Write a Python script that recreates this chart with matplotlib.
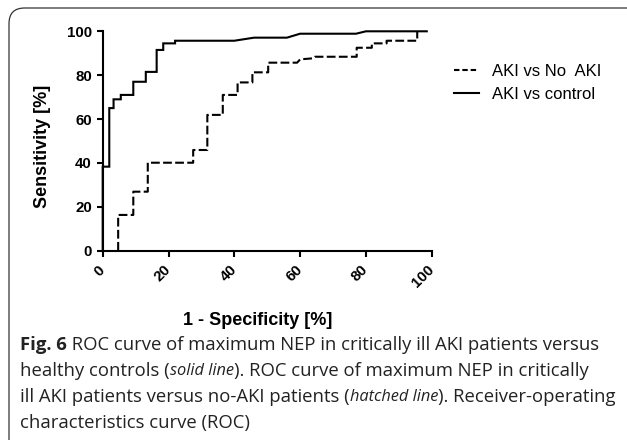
import matplotlib
matplotlib.use("Agg")
import matplotlib.pyplot as plt
from matplotlib.lines import Line2D
from matplotlib.patches import FancyBboxPatch

# ROC points (1 - specificity %, sensitivity %)
spec_control = [0, 0, 2, 2, 3.3, 3.3, 5.5, 5.5, 9.3, 9.3, 13.1, 13.1, 16.4, 16.4,
                18.4, 18.4, 22, 22, 40, 46, 56, 60, 77, 80, 98.5]
sens_control = [0, 38.3, 38.3, 65, 65, 69, 69, 71, 71, 77, 77, 81.5, 81.5, 91.5,
                91.5, 94.5, 94.5, 95.7, 95.7, 97.1, 97.1, 98.9, 98.9, 100, 100]

spec_noaki = [4.7, 4.7, 9.3, 9.3, 13.7, 13.7, 27.5, 27.5, 31.8, 31.8, 36.5, 36.5,
              41, 41, 45.5, 45.5, 50.3, 50.3, 59.1, 60, 64, 64.5, 77.2, 77.2,
              81.8, 81.8, 86.3, 86.3, 95.6, 95.6]
sens_noaki = [0, 16.3, 16.3, 26.9, 26.9, 40.1, 40.1, 45.9, 45.9, 61.9, 61.9, 71,
              71, 76.7, 76.7, 81.3, 81.3, 85.7, 85.7, 87.2, 87.7, 88.4, 88.4, 92.5,
              92.5, 94.5, 94.5, 95.7, 95.7, 100]

ticks = [0, 20, 40, 60, 80, 100]
labels = ["AKI vs No  AKI", "AKI vs control"]

caption = [
    [("Fig. 6", "bold", "normal"),
     (" ROC curve of maximum NEP in critically ill AKI patients versus", "normal", "normal")],
    [("healthy controls (", "normal", "normal"), ("solid line", "normal", "italic"),
     ("). ROC curve of maximum NEP in critically", "normal", "normal")],
    [("ill AKI patients versus no-AKI patients (", "normal", "normal"),
     ("hatched line", "normal", "italic"), ("). Receiver-operating", "normal", "normal")],
    [("characteristics curve (ROC)", "normal", "normal")],
]

W, H = 627, 440
fig = plt.figure(figsize=(W / 100, H / 100), dpi=100)
ax = fig.add_axes([102.7 / W, 1 - 250.7 / H, 329 / W, 219.4 / H])

arial = "Liberation Sans"

ax.plot(spec_control, sens_control, color="black", lw=1.5, clip_on=False,
        solid_joinstyle="miter")
ax.plot(spec_noaki, sens_noaki, color="black", lw=1.5, clip_on=False,
        linestyle=(0, (4.2, 1.6)), dash_capstyle="butt")

ax.set_xlim(0, 100)
ax.set_ylim(0, 100)
ax.set_xticks(ticks)
ax.set_yticks(ticks)
for s in ["top", "right"]:
    ax.spines[s].set_visible(False)
for s in ["left", "bottom"]:
    ax.spines[s].set_linewidth(1.5)
ax.tick_params(direction="out", length=4.3, width=1.5, labelsize=10.8)
ax.tick_params(axis="x", pad=8)
for t in ax.get_yticklabels():
    t.set_fontfamily(arial)
    t.set_fontweight("bold")
for t in ax.get_xticklabels():
    t.set_fontfamily(arial)
    t.set_fontweight("bold")
    t.set_rotation(45)
    t.set_ha("right")
    t.set_va("center")
    t.set_rotation_mode("anchor")

ax.set_ylabel("Sensitivity [%]", fontsize=13, fontweight="bold", family=arial)
ax.yaxis.set_label_coords(-0.183, 0.475)
ax.yaxis.label.set_va("center")
ax.set_xlabel("1 - Specificity [%]", fontsize=13, fontweight="bold", family=arial)
ax.xaxis.set_label_coords(0.47, -0.316)
ax.xaxis.label.set_va("center")

handles = [Line2D([], [], color="black", lw=1.5, linestyle=(0, (2.6, 1.4))),
           Line2D([], [], color="black", lw=1.5)]
ax.legend(handles, labels, loc="center left", frameon=False,
          bbox_to_anchor=(447 / W, 1 - 83 / H), bbox_transform=fig.transFigure,
          prop={"family": arial, "size": 12}, handlelength=1.5,
          handletextpad=0.8, labelspacing=0.45, borderaxespad=0)

# rounded frame around figure + caption
box = FancyBboxPatch((9 / W, -20 / H), 640 / W, (H - 8 + 20) / H,
                     boxstyle="round,pad=0,rounding_size=0.025",
                     transform=fig.transFigure, fill=False, lw=0.9,
                     edgecolor="#333333", mutation_aspect=W / H)
fig.patches.append(box)

# caption, run by run
fig.canvas.draw()
r = fig.canvas.get_renderer()
line_y = [345, 371, 397, 423]
for runs, yp in zip(caption, line_y):
    x = 20
    for txt, weight, style in runs:
        size = 11.8 if style == "italic" else 13.3
        t = fig.text(x / W, 1 - yp / H, txt, fontsize=size, family="Open Sans",
                     fontweight=weight, fontstyle=style, color="#222222",
                     va="center", ha="left")
        x = t.get_window_extent(r).x1

fig.savefig("out.png", dpi=100)
